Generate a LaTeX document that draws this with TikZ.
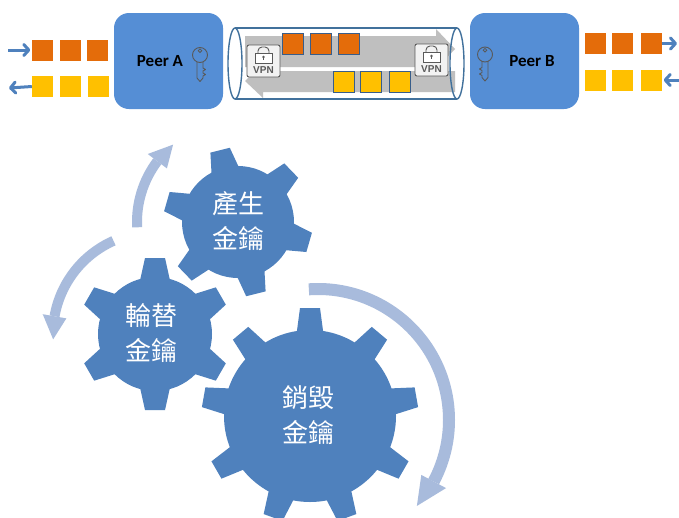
\documentclass[tikz,border=0pt]{standalone}
\usepackage{fontspec}
\setmainfont{Carlito}
\newfontfamily\cjk{Noto Sans CJK TC}
\newfontfamily\vpnfont{Liberation Sans}
\usetikzlibrary{arrows.meta}

\definecolor{peerblue}{RGB}{85,142,213}
\definecolor{gearblue}{RGB}{79,129,189}
\definecolor{cyclearrow}{RGB}{168,187,220}
\definecolor{tubeline}{RGB}{65,113,156}
\definecolor{pktorange}{RGB}{228,108,10}
\definecolor{pktyellow}{RGB}{255,192,0}
\definecolor{pktedge}{RGB}{56,93,138}
\definecolor{pipegray}{RGB}{191,191,191}
\definecolor{icongray}{RGB}{89,89,89}
\definecolor{vpnfill}{RGB}{242,242,242}
\definecolor{flowblue}{RGB}{79,129,189}

\tikzset{
  peerbox/.style={fill=peerblue, rounded corners=15pt, minimum width=109pt,
    minimum height=96pt, inner sep=0pt},
  peerlabel/.style={inner sep=0pt, font=\bfseries\fontsize{17}{18}\selectfont},
  pkt/.style={minimum size=21pt, inner sep=0pt},
  orangepkt/.style={pkt, fill=pktorange},
  yellowpkt/.style={pkt, fill=pktyellow},
  tunnelpkt/.style={draw=pktedge, line width=1pt},
  vpnbox/.style={draw=icongray, fill=vpnfill, rounded corners=2pt, line width=0.9pt,
    minimum width=33pt, minimum height=32pt, inner sep=0pt},
  vpnlabel/.style={text=icongray, inner sep=0pt,
    font=\vpnfont\bfseries\fontsize{10}{11}\selectfont},
  flow/.style={flowblue, line width=3pt,
    -{Straight Barb[length=5pt,width=11pt,line cap=round,line join=round]}},
  geartext/.style={text=white, align=center, inner sep=0pt,
    font=\cjk\fontsize{26}{35}\selectfont},
  cycleband/.style={cyclearrow},
}

% key outline, drawn around its ring centre; #2 = 1 or -1 mirrors the bit
\newcommand\peerkey[2]{%
  \begin{scope}[shift={#1}, xscale=#2]
    \draw[icongray, line width=0.9pt] (0,0) circle[radius=7.5];
    \draw[icongray, line width=0.8pt] (0,-4.3) circle[radius=1.8];
    \draw[icongray, line width=0.9pt, line join=round]
      (-3,6.9) -- (-3,23) -- (0,26.5) -- (3,23) -- (3,21) -- (5.5,19.5)
      -- (3,18) -- (3,16) -- (5.5,14.5) -- (3,13) -- (3,6.9);
  \end{scope}}

% padlock inside a VPN badge
\newcommand\vpnlock[1]{%
  \begin{scope}[shift={(#1.center)}]
    \draw[icongray, line width=0.9pt, rounded corners=4pt]
      (-5.5,-8) -- (-5.5,-14) -- (5.5,-14) -- (5.5,-8);
    \draw[icongray, fill=white, line width=0.9pt] (-8.5,-8) rectangle (8.5,2);
    \fill[icongray] (0,-4) circle[radius=1.4];
    \fill[icongray] (-0.6,-4) rectangle (0.6,-1);
  \end{scope}}

% one gear: centre, body radius, tip radius, base half-width, tip half-width, tooth angles
\newcommand\gearbody[6]{%
  \begin{scope}[shift={#1}, y=1pt]
    \fill[gearblue] (0,0) circle[radius=#2];
    \foreach \a in {#6}
      \fill[gearblue, rotate=\a] (#2-8,-#4) -- (#3,-#5) -- (#3,#5) -- (#2-8,#4) -- cycle;
  \end{scope}}

\begin{document}
\begin{tikzpicture}[x=1pt, y=-1pt]
\clip (0,0) rectangle (679,517);
\fill[white] (0,0) rectangle (679,517);

% ---------------- tunnel ----------------
\fill[pipegray] (245,36) -- (436,36) -- (436,29) -- (455,49) -- (436,69)
  -- (436,67) -- (245,67) -- cycle;
\fill[pipegray] (455,71) -- (263,71) -- (263,64) -- (245,81) -- (263,98)
  -- (263,92) -- (455,92) -- cycle;

\draw[tubeline, line width=1.4pt] (235,28) -- (457,28) (235,99) -- (457,99);
\draw[tubeline, line width=1.4pt] (235,63.5) ellipse[x radius=7, y radius=35.5];
\draw[tubeline, line width=1.4pt] (457,63.5) ellipse[x radius=7, y radius=35.5];

\node[vpnbox] (vpnL) at (263.5,61) {};
\node[vpnbox] (vpnR) at (431.5,60) {};
\vpnlock{vpnL}
\vpnlock{vpnR}
\node[vpnlabel] (vpnLtext) at ([yshift=-9pt]vpnL.center) {VPN};
\node[vpnlabel] (vpnRtext) at ([yshift=-9pt]vpnR.center) {VPN};

\node[orangepkt, tunnelpkt] (tO1) at (292.5,44) {};
\node[orangepkt, tunnelpkt] (tO2) at (321,44) {};
\node[orangepkt, tunnelpkt] (tO3) at (349,44) {};
\node[yellowpkt, tunnelpkt] (tY1) at (344,82) {};
\node[yellowpkt, tunnelpkt] (tY2) at (371,82) {};
\node[yellowpkt, tunnelpkt] (tY3) at (400,82) {};

% ---------------- peers ----------------
\node[peerbox] (peerA) at (168.5,61) {};
\node[peerlabel] (peerAtext) at (160,61) {Peer A};
\peerkey{(200,55)}{1}

\node[peerbox] (peerB) at (524.5,61) {};
\node[peerlabel] (peerBtext) at (532,61) {Peer B};
\peerkey{(485,54.5)}{-1}

% ---------------- local queues ----------------
\node[orangepkt] (oL1) at (42.5,50) {};
\node[orangepkt] (oL2) at (70,50) {};
\node[orangepkt] (oL3) at (97.5,50) {};
\node[yellowpkt] (yL1) at (42.5,86.5) {};
\node[yellowpkt] (yL2) at (70,86.5) {};
\node[yellowpkt] (yL3) at (98.5,86.5) {};

\node[orangepkt] (oR1) at (595,43.5) {};
\node[orangepkt] (oR2) at (622.5,43.5) {};
\node[orangepkt] (oR3) at (651,43.5) {};
\node[yellowpkt] (yR1) at (595,80) {};
\node[yellowpkt] (yR2) at (622.5,80) {};
\node[yellowpkt] (yR3) at (651.5,80) {};

\coordinate (inA) at (8,50);
\coordinate (outA) at (9,88);
\coordinate (outB) at (677,43.5);
\coordinate (inB) at (680,80);
\draw[flow, shorten >=1.5pt] (inA) -- (oL1);
\draw[flow] (yL1.west) -- (outA);
\draw[flow] (oR3.east) -- (outB);
\draw[flow, shorten >=1.5pt] (inB) -- (yR3);

% ---------------- key life cycle ----------------
\begin{scope}[shift={(238,222)}, y=1pt]
  \draw[cycleband, line width=10pt] (183:101) arc[start angle=183, end angle=143, radius=101];
  \fill[cyclearrow] (143:89) -- (143:113) -- (130:101) -- cycle;
\end{scope}
\begin{scope}[shift={(155,334)}, y=1pt]
  \draw[cycleband, line width=10pt] (114:102) arc[start angle=114, end angle=170, radius=102];
  \fill[cyclearrow] (170:90) -- (170:114) -- (183:102) -- cycle;
\end{scope}
\begin{scope}[shift={(318,420)}, y=1pt]
  \draw[cycleband, line width=12pt] (94:131) arc[start angle=94, end angle=-28, radius=131];
  \fill[cyclearrow] (-28:117) -- (-28:145) -- (-41:131) -- cycle;
\end{scope}

\gearbody{(238,222)}{56}{74}{15}{10}{104,44,-16,-76,-136,164}
\gearbody{(155,334)}{57}{76}{16}{10}{90,30,-30,-90,-150,150}
\gearbody{(310,416)}{86}{108}{14}{10}{90,50,10,-30,-70,-110,-150,170,130}

\node[geartext] (genkey) at (238,221) {產生\\金鑰};
\node[geartext] (rotkey) at (151,333) {輪替\\金鑰};
\node[geartext] (delkey) at (308,415) {銷毀\\金鑰};
\end{tikzpicture}
\end{document}
